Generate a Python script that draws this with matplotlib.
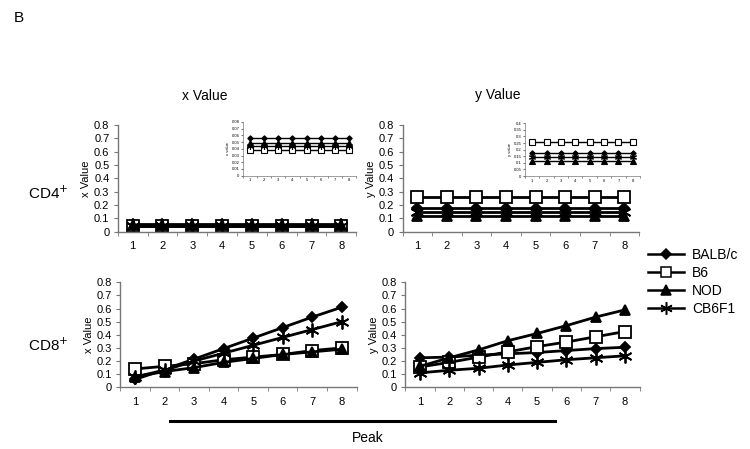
import matplotlib.pyplot as plt
from matplotlib.lines import Line2D

plt.rcParams['font.family'] = ['Liberation Sans', 'DejaVu Sans']

days = [1, 2, 3, 4, 5, 6, 7, 8]
strains = ['BALB/c', 'B6', 'NOD', 'CB6F1']

# CD4+ (flat series)
cd4_x_balbc = [0.056, 0.056, 0.056, 0.056, 0.056, 0.056, 0.056, 0.056]
cd4_x_b6 = [0.039, 0.039, 0.039, 0.039, 0.039, 0.039, 0.039, 0.039]
cd4_x_nod = [0.048, 0.048, 0.048, 0.048, 0.048, 0.048, 0.048, 0.048]
cd4_x_cb6f1 = [0.044, 0.044, 0.044, 0.044, 0.044, 0.044, 0.044, 0.044]

cd4_y_balbc = [0.175, 0.175, 0.175, 0.175, 0.175, 0.175, 0.175, 0.175]
cd4_y_b6 = [0.26, 0.26, 0.26, 0.26, 0.26, 0.26, 0.26, 0.26]
cd4_y_nod = [0.115, 0.115, 0.115, 0.115, 0.115, 0.115, 0.115, 0.115]
cd4_y_cb6f1 = [0.145, 0.145, 0.145, 0.145, 0.145, 0.145, 0.145, 0.145]

# CD8+
cd8_x_balbc = [0.06, 0.135, 0.215, 0.295, 0.375, 0.455, 0.535, 0.61]
cd8_x_b6 = [0.14, 0.16, 0.18, 0.21, 0.23, 0.25, 0.28, 0.30]
cd8_x_nod = [0.08, 0.12, 0.15, 0.19, 0.22, 0.25, 0.27, 0.29]
cd8_x_cb6f1 = [0.08, 0.13, 0.20, 0.26, 0.32, 0.38, 0.44, 0.50]

cd8_y_balbc = [0.225, 0.23, 0.245, 0.255, 0.265, 0.28, 0.295, 0.305]
cd8_y_b6 = [0.155, 0.19, 0.23, 0.27, 0.31, 0.345, 0.385, 0.425]
cd8_y_nod = [0.16, 0.225, 0.285, 0.355, 0.41, 0.47, 0.535, 0.59]
cd8_y_cb6f1 = [0.11, 0.13, 0.145, 0.17, 0.19, 0.21, 0.225, 0.24]

markers = {'BALB/c': dict(marker='D', mfc='black', ms=5.5),
           'B6': dict(marker='s', mfc='white', ms=8),
           'NOD': dict(marker='^', mfc='black', ms=7.5),
           'CB6F1': dict(marker=(6, 2, 0), mfc='black', ms=10)}

def panel(ax, series, ymax, ystep, ylabel, small=False):
    lw = 1.0 if small else 2.0
    for name, vals in zip(strains, series):
        st = dict(markers[name])
        if small:
            st['ms'] = st['ms'] * 0.5
        ax.plot(days, vals, color='black', lw=lw, mec='black',
                mew=0.8 if small else 1.3, **st)
    ax.set_xlim(0.5, 8.5)
    ax.set_ylim(0, ymax)
    n = int(round(ymax / ystep))
    ticks = [i * ystep for i in range(n + 1)]
    ax.set_yticks(ticks)
    ax.set_yticklabels([f'{round(t, 3):g}' for t in ticks])
    ax.set_xticks(days)
    ax.set_xticks([d + 0.5 for d in [0] + days], minor=True)
    for s in ['top', 'right']:
        ax.spines[s].set_visible(False)
    for s in ['left', 'bottom']:
        ax.spines[s].set_color('#777777')
        ax.spines[s].set_linewidth(0.5 if small else 1.0)
    fs = 3 if small else 8
    ax.tick_params(axis='x', which='major', length=0, labelsize=fs,
                   pad=2 if small else 7)
    ax.tick_params(axis='x', which='minor', length=1.5 if small else 3,
                   color='#777777', direction='out')
    ax.tick_params(axis='y', length=1.5 if small else 3, color='#777777',
                   labelsize=fs, pad=1 if small else 3)
    ax.set_ylabel(ylabel, fontsize=fs, labelpad=1 if small else 2)
    ax.patch.set_alpha(0)

fig = plt.figure(figsize=(7.5, 4.49), dpi=100)

ax1 = fig.add_axes([0.157, 0.484, 0.318, 0.2376])
panel(ax1, [cd4_x_balbc, cd4_x_b6, cd4_x_nod, cd4_x_cb6f1], 0.8, 0.1, 'x Value')
ax2 = fig.add_axes([0.5367, 0.484, 0.3155, 0.2376])
panel(ax2, [cd4_y_balbc, cd4_y_b6, cd4_y_nod, cd4_y_cb6f1], 0.8, 0.1, 'y Value')
ax3 = fig.add_axes([0.1603, 0.1374, 0.3151, 0.2339])
panel(ax3, [cd8_x_balbc, cd8_x_b6, cd8_x_nod, cd8_x_cb6f1], 0.8, 0.1, 'x Value')
ax4 = fig.add_axes([0.5405, 0.1374, 0.3123, 0.2339])
panel(ax4, [cd8_y_balbc, cd8_y_b6, cd8_y_nod, cd8_y_cb6f1], 0.8, 0.1, 'y Value')

in1 = fig.add_axes([0.324, 0.6087, 0.1507, 0.1196])
panel(in1, [cd4_x_balbc, cd4_x_b6, cd4_x_nod, cd4_x_cb6f1], 0.08, 0.01, 'x value', small=True)
in2 = fig.add_axes([0.7, 0.608, 0.1533, 0.1174])
panel(in2, [cd4_y_balbc, cd4_y_b6, cd4_y_nod, cd4_y_cb6f1], 0.4, 0.05, 'y value', small=True)

fig.text(205 / 750, 1 - 96 / 449, 'x Value', ha='center', va='center', fontsize=10)
fig.text(498 / 750, 1 - 95 / 449, 'y Value', ha='center', va='center', fontsize=10)
fig.text(14 / 750, 1 - 18 / 449, 'B', ha='left', va='center', fontsize=11)
fig.text(28 / 750, 1 - 193 / 449, 'CD4$^{+}$', ha='left', va='center', fontsize=11)
fig.text(28 / 750, 1 - 345 / 449, 'CD8$^{+}$', ha='left', va='center', fontsize=11)

fig.add_artist(Line2D([170 / 750, 555 / 750], [1 - 421 / 449, 1 - 421 / 449],
                      color='black', lw=2.2))
fig.text(368 / 750, 1 - 438 / 449, 'Peak', ha='center', va='center', fontsize=10)

leg_ms = {'BALB/c': 5, 'B6': 7, 'NOD': 7, 'CB6F1': 9}
handles = []
for s in strains:
    st = dict(markers[s])
    st['ms'] = leg_ms[s]
    handles.append(Line2D([], [], color='black', lw=1.8, mec='black', mew=1.1, **st))
fig.legend(handles, strains, loc='upper left', bbox_to_anchor=(642 / 750, 1 - 242 / 449),
           frameon=False, fontsize=10, handlelength=2.6, handletextpad=0.6,
           labelspacing=0.3, borderaxespad=0)

fig.savefig('out.png', dpi=100)
